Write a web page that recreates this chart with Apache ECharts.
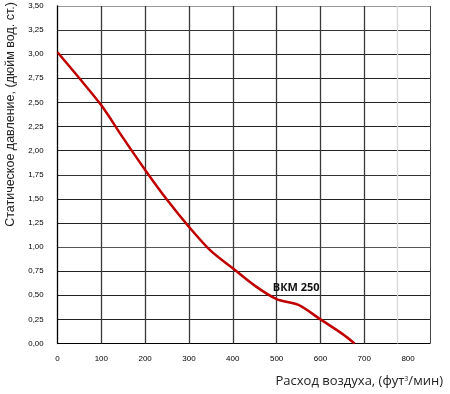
<!DOCTYPE html>
<html><head><meta charset="utf-8">
<script src="https://cdn.jsdelivr.net/npm/echarts@6/dist/echarts.min.js"></script>
<style>html,body{margin:0;padding:0;background:#fff}#c{width:450px;height:394px}</style>
</head><body><div id="c"></div>
<script>
const airflow = [0, 50, 100, 150, 200, 250, 300, 350, 400, 450, 500, 550, 600, 650, 678];
const pressure = [3.02, 2.75, 2.47, 2.13, 1.80, 1.49, 1.21, 0.96, 0.78, 0.60, 0.46, 0.40, 0.25, 0.10, 0.0];
const seriesName = 'ВКМ 250';
const labelPoint = [490, 0.575];
const xGrid = [100, 200, 300, 400, 500, 600, 700];
const xLightGrid = [775];
const xTitleMain = 'Расход воздуха, (фут';
const xTitleSup = '3';
const xTitleEnd = '/мин)';
const yTitle = 'Статическое давление, (дюйм вод. ст.)';

const chart = echarts.init(document.getElementById('c'), null, {renderer: 'canvas'});
const vLines = xGrid.map(v => ({xAxis: v, lineStyle: {color: '#3a3a3a', width: 1.3, type: 'solid'}}))
  .concat(xLightGrid.map(v => ({xAxis: v, lineStyle: {color: '#d8d8d8', width: 1.3, type: 'solid'}})))
  .concat([{xAxis: 850, lineStyle: {color: '#444', width: 1, type: 'solid'}}]);
chart.setOption({
  animation: false,
  grid: {left: 57.5, right: 20, top: 6, bottom: 50.5, containLabel: false, outerBoundsMode: 'none'},
  xAxis: {
    type: 'value', min: 0, max: 850, interval: 100,
    axisLine: {show: true, lineStyle: {color: '#000', width: 1}},
    axisTick: {show: false},
    splitLine: {show: false},
    axisLabel: {color: '#000', fontSize: 8, fontFamily: 'Liberation Sans', margin: 11,
      formatter: v => (v % 100 === 0 ? String(v) : '')}
  },
  yAxis: {
    type: 'value', min: 0, max: 3.5, interval: 0.25,
    axisLine: {show: true, lineStyle: {color: '#000', width: 1.3}},
    axisTick: {show: false},
    splitLine: {show: true, lineStyle: {color: ['#333','#222','#222','#222','#555','#222','#222','#333','#222','#222','#222','#222','#222','#333','#999'], width: 1.2}},
    axisLabel: {color: '#000', fontSize: 7.8, fontFamily: 'Liberation Sans', margin: 14,
      formatter: v => v.toFixed(2).replace('.', ',')}
  },
  graphic: [{
    type: 'text', right: 7, top: 375,
    style: {
      text: '{m|' + xTitleMain + '}{s|' + xTitleSup + '}{m|' + xTitleEnd + '}',
      rich: {
        m: {fontSize: 13, fontFamily: 'Open Sans', fill: '#222', color: '#222'},
        s: {fontSize: 7, fontFamily: 'Open Sans', fill: '#222', color: '#222', verticalAlign: 'top', padding: [0, 0, 6, 0]}
      }
    }
  }, {
    type: 'text', x: 17, y: 2, rotation: Math.PI / 2,
    style: {text: yTitle, fontSize: 12.5, fontFamily: 'Liberation Sans', fill: '#222',
      align: 'right', verticalAlign: 'bottom'}
  }],
  series: [{
    type: 'line', name: seriesName,
    data: airflow.map((x, i) => [x, pressure[i]]),
    smooth: 0.3, symbol: 'none',
    lineStyle: {color: '#c00000', width: 2.5},
    z: 5,
    markLine: {silent: true, symbol: 'none', label: {show: false}, data: vLines, z: 1},
    markPoint: {
      symbol: 'rect', symbolSize: 1, itemStyle: {color: 'transparent'},
      label: {show: true, position: 'right', distance: 0, formatter: seriesName,
        fontSize: 11, fontWeight: 'bold', fontFamily: 'Open Sans', color: '#111'},
      data: [{coord: labelPoint}]
    }
  }]
});
</script></body></html>
